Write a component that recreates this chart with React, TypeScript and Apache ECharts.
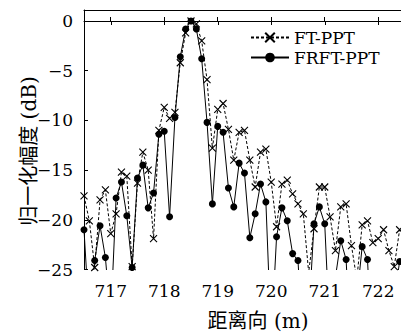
import React, { useEffect, useRef } from "react";
import * as echarts from "echarts";

const rangeX = [
  716.5, 716.6, 716.7, 716.8, 716.9, 717.0, 717.1, 717.2, 717.3, 717.4,
  717.5, 717.6, 717.7, 717.8, 717.9, 718.0, 718.1, 718.2, 718.3, 718.4,
  718.5, 718.6, 718.7, 718.8, 718.9, 719.0, 719.1, 719.2, 719.3, 719.4,
  719.5, 719.6, 719.7, 719.8, 719.9, 720.0, 720.1, 720.2, 720.3, 720.4,
  720.5, 720.6, 720.7, 720.8, 720.9, 721.0, 721.1, 721.2, 721.3, 721.4,
  721.5, 721.6, 721.7, 721.8, 721.9, 722.0, 722.1, 722.2, 722.3, 722.4,
];

const ftPPT = [
  -17.6, -20.1, -24.8, -18.0, -17.0, -21.4, -19.4, -15.2, -15.6, -24.7,
  -16.3, -13.2, -15.0, -21.9, -11.0, -8.7, -9.8, -9.2, -4.2, -1.2,
  0, -0.3, -2.0, -5.9, -12.8, -8.9, -8.3, -10.9, -14.0, -11.2,
  -11.0, -14.0, -16.7, -13.2, -12.9, -16.2, -20.7, -16.4, -16.0, -17.4,
  -18.4, -19.4, -25.3, -20.9, -16.7, -16.7, -19.7, -23.1, -18.7, -18.4,
  -22.6, -26.0, -20.5, -20.1, -22.3, -21.9, -21.0, -23.1, -24.7, -21.0,
];

const frftPPT = [
  -21.0, -30.0, -24.1, -20.6, -23.8, -30.0, -17.8, -16.2, -19.6, -24.8,
  -15.8, -14.5, -18.8, -17.3, -11.4, -11.1, -19.7, -9.7, -3.6, -0.8,
  0, -0.8, -3.8, -10.2, -18.4, -10.6, -11.2, -16.8, -18.7, -14.3,
  -15.3, -21.8, -19.4, -16.4, -18.2, -32.0, -21.7, -18.8, -20.1, -23.4,
  -24.1, -33.0, -30.0, -20.4, -18.7, -20.4, -32.0, -25.8, -22.1, -24.0,
  -35.0, -28.0, -22.7, -24.0, -35.0, -35.0, -35.0, -35.0, -28.0, -24.2,
];

const xTicks = [717, 718, 719, 720, 721, 722];
const seriesNames = ["FT-PPT", "FRFT-PPT"];
const xTitle = "距离向 (m)";
const yTitle = "归一化幅度 (dB)";

const SERIF = "DejaVu Serif";
const TITLE_FONT = "20px 'DejaVu Serif', 'Noto Sans CJK SC'";
const X_SYMBOL = "path://M0,0L10,10M10,0L0,10";

const X_MIN = 716.5;
const X_MAX = 722.426;

export default function App() {
  const ref = useRef<HTMLDivElement>(null);
  useEffect(() => {
    if (!ref.current) return;
    const chart = echarts.init(ref.current, undefined, { renderer: "svg" });
    const pair = (vals: number[]) => rangeX.map((x, i) => [x, vals[i]]);
    const pxPerUnit = 320 / (X_MAX - X_MIN);
    const tickGridLeft = 84 + (xTicks[0] - X_MIN) * pxPerUnit;
    chart.setOption({
      animation: false,
      grid: [
        { left: 84, top: 10, width: 320, height: 259.5 },
        { left: tickGridLeft, top: 10, width: 404 - tickGridLeft, height: 259.5 },
      ],
      legend: {
        left: 245,
        top: 24,
        orient: "vertical",
        itemWidth: 38,
        itemHeight: 12,
        itemGap: 3,
        textStyle: { fontFamily: SERIF, fontSize: 17, color: "#000" },
        data: seriesNames,
      },
      xAxis: [
        {
          type: "value",
          gridIndex: 0,
          position: "bottom",
          min: X_MIN,
          max: X_MAX,
          splitLine: { show: false },
          axisLine: { show: true, lineStyle: { color: "#000", width: 1 } },
          axisTick: {
            show: true,
            inside: true,
            length: 4,
            customValues: xTicks,
            lineStyle: { color: "#000" },
          },
          axisLabel: {
            customValues: xTicks,
            margin: 13,
            fontFamily: SERIF,
            fontSize: 17,
            color: "#000",
          },
        },
        {
          type: "value",
          gridIndex: 0,
          position: "top",
          min: X_MIN,
          max: X_MAX,
          splitLine: { show: false },
          axisLine: { show: true, lineStyle: { color: "#000", width: 1 } },
          axisTick: { show: false },
          axisLabel: { show: false },
        },
        {
          type: "value",
          gridIndex: 1,
          position: "top",
          min: xTicks[0],
          max: X_MAX,
          interval: 1,
          splitLine: { show: false },
          axisLine: { show: false },
          axisTick: { show: true, inside: true, length: 4, lineStyle: { color: "#000" } },
          axisLabel: { show: false },
        },
      ],
      yAxis: [
        {
          type: "value",
          gridIndex: 0,
          min: -25,
          max: 1.107,
          interval: 5,
          splitLine: { show: false },
          axisLine: { show: true, lineStyle: { color: "#000", width: 1 } },
          axisTick: { show: true, inside: true, length: 4, lineStyle: { color: "#000" } },
          axisLabel: {
            margin: 11,
            fontFamily: SERIF,
            fontSize: 17,
            color: "#000",
            showMaxLabel: false,
            formatter: (v: number) => (v % 5 === 0 ? String(v).replace("-", "\u2212") : ""),
          },
        },
        {
          type: "value",
          gridIndex: 1,
          min: -25,
          max: 1.107,
          show: false,
        },
      ],
      graphic: [
        {
          type: "text",
          x: 258,
          y: 321,
          style: {
            text: xTitle,
            font: TITLE_FONT,
            fill: "#000",
            align: "center",
            verticalAlign: "middle",
          },
        },
        {
          type: "text",
          x: 29,
          y: 151,
          rotation: Math.PI / 2,
          style: {
            text: yTitle,
            font: TITLE_FONT,
            fill: "#000",
            align: "center",
            verticalAlign: "middle",
          },
        },
      ],
      series: [
        {
          name: seriesNames[0],
          type: "line",
          xAxisIndex: 0,
          yAxisIndex: 0,
          data: pair(ftPPT),
          symbol: X_SYMBOL,
          symbolSize: 7,
          clip: true,
          lineStyle: { color: "#000", width: 1, type: [3, 2] },
          itemStyle: { color: "#000", borderColor: "#000", borderWidth: 1.1 },
          emphasis: { disabled: true },
          z: 2,
        },
        {
          name: seriesNames[1],
          type: "line",
          xAxisIndex: 0,
          yAxisIndex: 0,
          data: pair(frftPPT),
          symbol: "circle",
          symbolSize: 7,
          clip: true,
          lineStyle: { color: "#000", width: 1, type: "solid" },
          itemStyle: { color: "#000" },
          emphasis: { disabled: true },
          z: 3,
        },
      ],
    });
    return () => chart.dispose();
  }, []);
  return (
    <div
      ref={ref}
      style={{ position: "fixed", left: 0, top: 0, width: 401, height: 333, background: "#fff" }}
    />
  );
}
